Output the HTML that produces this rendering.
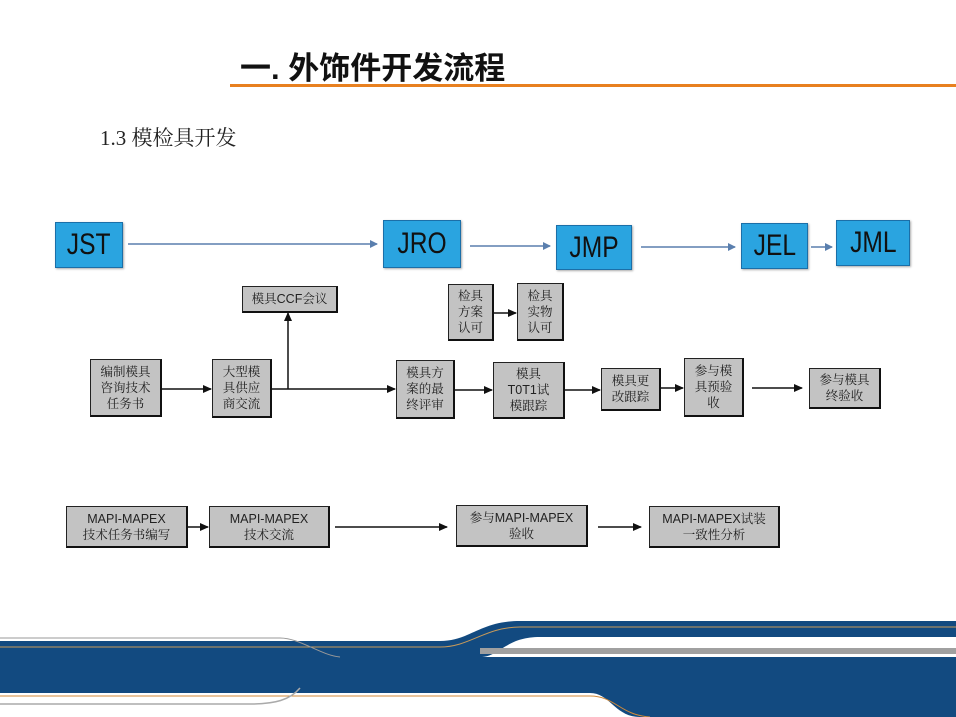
<!DOCTYPE html>
<html><head><meta charset="utf-8"><style>
body{margin:0;width:956px;height:717px;position:relative;background:#fff;overflow:hidden;font-family:"Liberation Serif","Noto Serif CJK SC","Noto Sans CJK SC",serif;}
.t{position:absolute;}
.b{position:absolute;background:#2aa4e0;border:1px solid #1b6fa8;box-shadow:1px 1px 2px #aaa;font-family:"Liberation Sans",sans-serif;font-size:30px;color:#111;display:flex;align-items:center;justify-content:center;box-sizing:border-box;}
.b span{display:inline-block;transform:scaleX(0.82);}
.g{position:absolute;background:#c3c3c3;border:1px solid #222;border-right:2px solid #111;border-bottom:2px solid #111;box-sizing:border-box;font-size:12.5px;line-height:16px;color:#222;display:flex;align-items:center;justify-content:center;text-align:center;font-family:"Liberation Sans","Noto Serif CJK SC",serif;}
</style></head><body>
<div class="t" style="left:240px;top:43px;font-size:31px;font-family:'Liberation Sans','Noto Sans CJK SC',sans-serif;font-weight:bold;color:#111;">一. 外饰件开发流程</div>
<div class="t" style="left:230px;top:84px;width:726px;height:3px;background:#e8801f;"></div>
<div class="t" style="left:100px;top:122px;font-size:21px;color:#222;">1.3 模检具开发</div>

<div class="b" style="left:55px;top:222px;width:68px;height:46px;"><span>JST</span></div>
<div class="b" style="left:383px;top:220px;width:78px;height:48px;"><span>JRO</span></div>
<div class="b" style="left:556px;top:225px;width:76px;height:45px;"><span>JMP</span></div>
<div class="b" style="left:741px;top:223px;width:67px;height:46px;"><span>JEL</span></div>
<div class="b" style="left:836px;top:220px;width:74px;height:46px;"><span>JML</span></div>

<svg class="t" style="left:0;top:0" width="956" height="600">
<defs>
<marker id="a" markerWidth="8" markerHeight="8" refX="7" refY="4" orient="auto" markerUnits="userSpaceOnUse"><path d="M0,0 L8,4 L0,8z" fill="#5a7fae"/></marker>
<marker id="k" markerWidth="9" markerHeight="8" refX="8" refY="4" orient="auto" markerUnits="userSpaceOnUse"><path d="M0,0 L9,4 L0,8z" fill="#111"/></marker>
</defs>
<g stroke="#5a7fae" stroke-width="1.5" marker-end="url(#a)">
<line x1="128" y1="244" x2="377" y2="244"/>
<line x1="470" y1="246" x2="550" y2="246"/>
<line x1="641" y1="247" x2="735" y2="247"/>
<line x1="811" y1="247" x2="832" y2="247"/>
</g>
<g stroke="#111" stroke-width="1.5" marker-end="url(#k)">
<line x1="162" y1="389" x2="211" y2="389"/>
<line x1="271" y1="389" x2="395" y2="389"/>
<line x1="288" y1="389" x2="288" y2="313"/>
<line x1="455" y1="390" x2="492" y2="390"/>
<line x1="565" y1="390" x2="600" y2="390"/>
<line x1="661" y1="388" x2="683" y2="388"/>
<line x1="752" y1="388" x2="802" y2="388"/>
<line x1="493" y1="313" x2="516" y2="313"/>
<line x1="188" y1="527" x2="208" y2="527"/>
<line x1="335" y1="527" x2="447" y2="527"/>
<line x1="598" y1="527" x2="641" y2="527"/>
</g>
</svg>

<div class="g" style="left:242px;top:286px;width:96px;height:27px;">模具CCF会议</div>
<div class="g" style="left:448px;top:284px;width:46px;height:57px;">检具<br>方案<br>认可</div>
<div class="g" style="left:517px;top:283px;width:47px;height:58px;">检具<br>实物<br>认可</div>
<div class="g" style="left:90px;top:359px;width:72px;height:58px;">编制模具<br>咨询技术<br>任务书</div>
<div class="g" style="left:212px;top:359px;width:60px;height:59px;">大型模<br>具供应<br>商交流</div>
<div class="g" style="left:396px;top:360px;width:59px;height:59px;">模具方<br>案的最<br>终评审</div>
<div class="g" style="left:493px;top:362px;width:72px;height:57px;">模具<br>T0T1试<br>模跟踪</div>
<div class="g" style="left:601px;top:368px;width:60px;height:43px;">模具更<br>改跟踪</div>
<div class="g" style="left:684px;top:358px;width:60px;height:59px;">参与模<br>具预验<br>收</div>
<div class="g" style="left:809px;top:368px;width:72px;height:41px;">参与模具<br>终验收</div>

<div class="g" style="left:66px;top:506px;width:122px;height:42px;">MAPI-MAPEX<br>技术任务书编写</div>
<div class="g" style="left:209px;top:506px;width:121px;height:42px;">MAPI-MAPEX<br>技术交流</div>
<div class="g" style="left:456px;top:505px;width:132px;height:42px;">参与MAPI-MAPEX<br>验收</div>
<div class="g" style="left:649px;top:506px;width:131px;height:42px;">MAPI-MAPEX试装<br>一致性分析</div>

<svg class="t" style="left:0;top:600px" width="956" height="117">
<path d="M0,41 L440,41 C470,41 480,21 520,21 L956,21 L956,37 L540,37 C505,37 500,57 480,57 L956,57 L956,117 L640,117 C615,117 610,93 590,93 L0,93 Z" fill="#124a80"/>
<rect x="480" y="48" width="476" height="6" fill="#a0a0a0"/>
<path d="M0,47 L440,47 C470,47 485,27 520,27 L956,27" stroke="#c79a5a" stroke-width="1" fill="none"/>
<path d="M0,96 L590,96 C615,96 620,115 650,117" stroke="#d08a3a" stroke-width="1" fill="none"/>
<path d="M0,104 L250,104 C275,104 290,100 300,88" stroke="#aaa" stroke-width="1.5" fill="none"/>
<path d="M0,38 L280,38 C300,38 320,55 340,57" stroke="#999" stroke-width="1" fill="none"/>
</svg>
</body></html>
